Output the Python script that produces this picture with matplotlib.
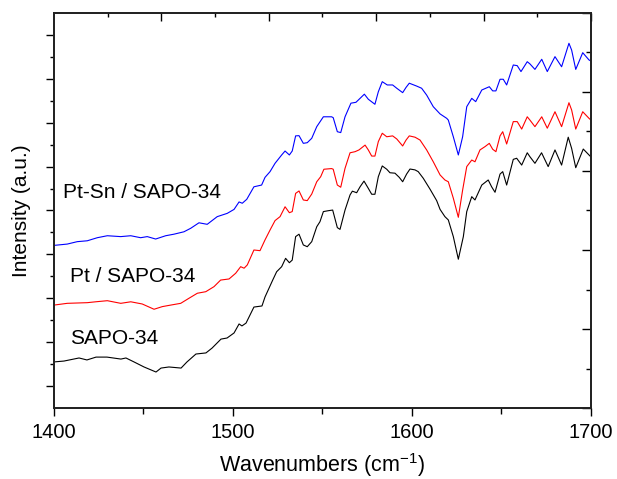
import matplotlib
matplotlib.use("Agg")
import matplotlib.pyplot as plt
from matplotlib.ticker import FixedLocator, MultipleLocator, NullFormatter

plt.rcParams['font.family'] = ['Liberation Sans', 'DejaVu Sans']
plt.rcParams['mathtext.fontset'] = 'custom'
plt.rcParams['mathtext.rm'] = 'Liberation Sans'

# ---- data ----
wn_sapo = [1400.0, 1405.6, 1414.0, 1418.4, 1423.5, 1429.6, 1437.4, 1440.2, 1444.7, 1450.3,
           1457.0, 1459.8, 1464.2, 1471.0, 1474.3, 1479.3, 1484.9, 1488.3, 1493.3, 1496.7,
           1500.6, 1503.4, 1505.0, 1507.3, 1511.7, 1516.2, 1517.9, 1522.2, 1524.4, 1527.2,
           1529.4, 1531.5, 1533.1, 1535.0, 1536.9, 1539.3, 1541.5, 1544.0, 1546.8, 1548.6,
           1550.5, 1553.2, 1555.7, 1558.3, 1559.8, 1562.6, 1565.4, 1566.7, 1569.1, 1571.0,
           1573.2, 1575.6, 1577.5, 1579.3, 1581.2, 1583.4, 1585.9, 1587.7, 1590.5, 1592.9,
           1594.8, 1597.0, 1598.9, 1601.7, 1603.5, 1606.3, 1610.1, 1613.8, 1615.7, 1618.4,
           1620.3, 1623.1, 1625.9, 1628.7, 1630.6, 1633.4, 1635.2, 1639.0, 1642.6, 1644.5,
           1646.4, 1649.2, 1650.7, 1652.9, 1656.6, 1658.5, 1661.3, 1664.4, 1665.9, 1668.7,
           1672.4, 1676.1, 1679.9, 1683.6, 1687.3, 1689.2, 1691.5, 1695.7, 1698.9, 1700.0]
int_sapo = [2.10, 2.14, 2.28, 2.19, 2.32, 2.32, 2.23, 2.28, 2.10, 1.87,
            1.64, 1.82, 1.87, 1.82, 2.10, 2.46, 2.51, 2.73, 3.14, 3.19,
            3.42, 3.83, 3.74, 3.87, 4.60, 4.65, 5.06, 5.83, 6.21, 6.44,
            6.82, 6.62, 6.74, 7.81, 7.92, 7.43, 7.35, 7.58, 8.26, 8.49,
            8.95, 8.99, 9.02, 8.22, 8.14, 9.02, 9.71, 9.88, 9.81, 10.08,
            10.34, 10.01, 9.74, 9.74, 10.54, 11.03, 10.88, 10.72, 10.70, 10.51,
            10.31, 10.66, 10.89, 10.85, 10.77, 10.47, 9.97, 9.45, 9.05, 8.72,
            8.57, 7.81, 6.78, 7.81, 8.95, 9.63, 9.48, 10.16, 10.39, 10.08,
            9.83, 10.66, 10.77, 10.16, 11.33, 11.38, 11.07, 11.63, 11.45, 11.15,
            11.63, 11.00, 11.76, 11.07, 12.34, 11.83, 10.95, 11.80, 11.53, 11.44]

wn_pt = [1400.0, 1407.4, 1418.6, 1423.3, 1429.8, 1437.3, 1442.9, 1449.3, 1455.9, 1460.5,
         1465.2, 1470.8, 1475.4, 1480.1, 1484.8, 1489.4, 1493.1, 1497.8, 1501.5, 1504.3,
         1506.2, 1508.0, 1511.7, 1515.1, 1517.9, 1520.7, 1523.5, 1526.3, 1529.1, 1531.5,
         1533.1, 1535.0, 1536.9, 1539.3, 1541.5, 1544.0, 1546.8, 1549.0, 1550.8, 1555.1,
         1556.0, 1558.3, 1560.2, 1562.6, 1565.4, 1568.2, 1570.4, 1573.8, 1575.6, 1577.5,
         1579.3, 1581.2, 1583.4, 1585.9, 1589.2, 1591.5, 1594.8, 1596.7, 1598.5, 1601.7,
         1604.5, 1608.2, 1611.9, 1615.7, 1618.4, 1620.3, 1623.1, 1625.9, 1628.3, 1630.6,
         1633.4, 1635.2, 1638.0, 1640.8, 1643.2, 1645.1, 1646.9, 1649.2, 1650.7, 1652.9,
         1656.6, 1658.8, 1661.3, 1664.4, 1665.9, 1668.7, 1672.5, 1675.6, 1679.9, 1683.6,
         1687.7, 1689.2, 1691.5, 1695.4, 1698.9, 1700.0]
int_pt = [4.69, 4.77, 4.80, 4.84, 4.89, 4.77, 4.84, 4.74, 4.50, 4.62,
          4.69, 4.77, 5.00, 5.23, 5.30, 5.53, 5.83, 5.88, 6.14, 6.44,
          6.37, 6.52, 7.20, 7.17, 7.66, 8.11, 8.54, 8.72, 9.17, 8.90,
          8.95, 9.78, 9.89, 9.48, 9.45, 9.75, 10.31, 10.54, 10.88, 10.91,
          10.88, 10.16, 10.06, 10.92, 11.63, 11.68, 11.76, 11.98, 11.76, 11.48,
          11.48, 12.14, 12.52, 12.36, 12.40, 12.26, 11.94, 12.21, 12.40, 12.34,
          12.21, 11.76, 11.22, 10.62, 10.39, 10.31, 9.56, 8.69, 9.93, 11.00,
          11.30, 11.22, 11.76, 11.91, 12.06, 11.79, 11.68, 12.40, 12.59, 12.03,
          13.05, 13.05, 12.71, 13.27, 13.12, 12.82, 13.27, 12.75, 13.50, 12.82,
          13.91, 13.58, 12.71, 13.50, 13.20, 13.12]

wn_ptsn = [1400.0, 1407.4, 1413.0, 1418.6, 1424.2, 1429.8, 1437.3, 1442.9, 1448.4, 1452.1,
           1456.8, 1462.4, 1467.0, 1472.6, 1476.4, 1481.0, 1485.6, 1491.2, 1496.8, 1500.6,
           1503.4, 1505.2, 1507.7, 1511.7, 1516.0, 1517.9, 1520.7, 1523.5, 1527.2, 1529.1,
           1531.5, 1533.1, 1535.0, 1536.9, 1539.3, 1541.5, 1544.0, 1546.8, 1550.5, 1555.1,
           1556.0, 1558.3, 1560.2, 1562.6, 1565.9, 1568.7, 1571.0, 1573.4, 1575.6, 1579.3,
           1581.2, 1583.4, 1586.2, 1589.2, 1591.5, 1594.8, 1596.7, 1598.5, 1602.6, 1605.4,
           1608.2, 1611.9, 1615.7, 1619.4, 1620.3, 1623.1, 1625.9, 1628.3, 1630.6, 1633.4,
           1635.6, 1639.0, 1643.2, 1645.1, 1646.9, 1649.2, 1651.0, 1652.9, 1656.6, 1658.8,
           1660.9, 1664.4, 1665.9, 1668.7, 1672.5, 1675.6, 1679.9, 1683.6, 1687.7, 1689.2,
           1691.5, 1695.4, 1698.9, 1700.0]
int_ptsn = [7.41, 7.47, 7.58, 7.62, 7.76, 7.85, 7.81, 7.85, 7.76, 7.81,
            7.70, 7.85, 7.92, 8.03, 8.19, 8.44, 8.37, 8.72, 8.87, 9.05,
            9.39, 9.33, 9.51, 10.08, 10.16, 10.51, 10.77, 11.15, 11.53, 11.71,
            11.53, 11.71, 12.40, 12.41, 12.06, 12.09, 12.29, 12.82, 13.27, 13.27,
            13.23, 12.59, 12.55, 13.27, 13.89, 13.93, 14.11, 14.30, 14.07, 13.84,
            14.41, 14.87, 14.72, 14.72, 14.57, 14.37, 14.61, 14.80, 14.67, 14.57,
            14.26, 13.73, 13.40, 13.20, 13.12, 12.36, 11.53, 12.36, 13.73, 14.11,
            13.96, 14.49, 14.64, 14.45, 14.45, 14.98, 14.98, 14.72, 15.63, 15.60,
            15.33, 15.78, 15.68, 15.43, 15.89, 15.33, 16.01, 15.55, 16.62, 16.31,
            15.43, 16.19, 15.86, 15.81]

labels = ["SAPO-34", "Pt / SAPO-34", "Pt-Sn / SAPO-34"]
label_pos = [(1409, 3.19), (1409, 5.97), (1405, 9.80)]
colors = ["black", "#ff0000", "#0000ff"]

x_ticks = [1400, 1500, 1600, 1700]
x_tick_labels = ["1400", "1500", "1600", "1700"]

# ---- figure ----
fig = plt.figure(figsize=(6.17, 4.79), dpi=100)
ax = fig.add_axes([0.0875, 0.1482, 0.8703, 0.8247])

for wn, it, c in zip([wn_sapo, wn_pt, wn_ptsn], [int_sapo, int_pt, int_ptsn], colors):
    ax.plot(wn, it, color=c, lw=0.8)

for lab, (lx, ly) in zip(labels, label_pos):
    ax.text(lx, ly, lab, fontsize=15, va='center', ha='left', color='black')

ax.set_xlim(1400, 1700)
ax.set_ylim(0, 18)
ax.set_xticks(x_ticks)
ax.set_xticklabels(x_tick_labels)
ax.xaxis.set_minor_locator(MultipleLocator(50))
ax.yaxis.set_major_locator(FixedLocator(list(range(1, 18, 2))))
ax.yaxis.set_minor_locator(FixedLocator(list(range(2, 17, 2))))
ax.yaxis.set_major_formatter(NullFormatter())
ax.tick_params(axis='x', which='major', direction='out', length=6, width=1.0,
               labelsize=14.5, pad=5, top=False)
ax.tick_params(axis='x', which='minor', direction='out', length=4, width=1.0, top=False)
ax.tick_params(axis='y', which='major', direction='out', length=6, width=1.0, right=False)
ax.tick_params(axis='y', which='minor', direction='out', length=3, width=1.0, right=False)

ax.set_xlabel("Wavenumbers (cm$^{\\mathregular{-1}}$)", fontsize=15.5, labelpad=6)
ax.set_ylabel("Intensity (a.u.)", fontsize=15, labelpad=7)

for s in ax.spines.values():
    s.set_linewidth(1.1)
    s.set_color('#222222')

# right axis ticks (inward)
axr = ax.twinx()
axr.set_ylim(0, 1)
axr.yaxis.set_major_locator(MultipleLocator(0.2))
axr.yaxis.set_minor_locator(MultipleLocator(0.1))
axr.yaxis.set_major_formatter(NullFormatter())
axr.tick_params(axis='y', which='major', direction='in', length=6.5, width=1.0)
axr.tick_params(axis='y', which='minor', direction='in', length=3.5, width=1.0)

# top axis ticks (inward)
axt = ax.twiny()
axt.set_xlim(1400, 1700)
axt.xaxis.set_major_locator(FixedLocator([1460, 1520, 1580, 1640, 1700]))
axt.xaxis.set_minor_locator(FixedLocator([1430, 1490, 1550, 1610, 1670]))
axt.xaxis.set_major_formatter(NullFormatter())
axt.tick_params(axis='x', which='major', direction='in', length=6, width=1.0)
axt.tick_params(axis='x', which='minor', direction='in', length=3, width=1.0)
for a in (axr, axt):
    for s in a.spines.values():
        s.set_linewidth(1.1)
        s.set_color('#222222')

fig.savefig("out.png", dpi=100)
